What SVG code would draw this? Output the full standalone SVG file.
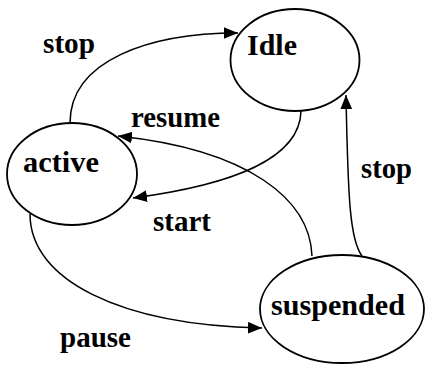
<svg xmlns="http://www.w3.org/2000/svg" width="425" height="365" viewBox="0 0 425 365">
<style>
.node ellipse{fill:#fff;stroke:#000;stroke-width:1.8}
.node text,.lbl{font-family:"Liberation Serif","Times New Roman",serif;font-weight:bold;font-size:29px;fill:#000}
.edge{fill:none;stroke:#000;stroke-width:1.5;marker-end:url(#ah)}
</style>
<defs>
<marker id="ah" markerUnits="userSpaceOnUse" markerWidth="14" markerHeight="12" refX="12" refY="5" orient="auto" viewBox="0 0 12 10">
<path d="M0,0 L12,5 L0,10 Z" fill="#000"/>
</marker>
</defs>
<g id="connectors">
<path class="edge" d="M 70 123 C 70 60, 150 33, 238 33"/>
<path class="edge" d="M 301 111 C 300 160, 230 185, 133 198"/>
<path class="edge" d="M 312 256 C 310 200, 250 150, 118 136"/>
<path class="edge" d="M 362 256 C 350 240, 348 200, 346 95"/>
<path class="edge" d="M 30 214 C 30 280, 120 325, 262 328"/>
</g>
<g id="idle" class="node">
<ellipse cx="295" cy="60" rx="64.5" ry="51"/>
<text x="247" y="55" textLength="50" lengthAdjust="spacingAndGlyphs">Idle</text>
</g>
<g id="active" class="node">
<ellipse cx="72" cy="174" rx="65" ry="51"/>
<text x="23" y="172" textLength="76" lengthAdjust="spacingAndGlyphs">active</text>
</g>
<g id="suspended" class="node">
<ellipse cx="342" cy="309" rx="82" ry="54"/>
<text x="271" y="315" textLength="134" lengthAdjust="spacingAndGlyphs">suspended</text>
</g>
<g id="labels">
<text class="lbl" x="43" y="53" textLength="52" lengthAdjust="spacingAndGlyphs">stop</text>
<text class="lbl" x="131" y="127" textLength="89" lengthAdjust="spacingAndGlyphs">resume</text>
<text class="lbl" x="153" y="231" textLength="58" lengthAdjust="spacingAndGlyphs">start</text>
<text class="lbl" x="361" y="178" textLength="51" lengthAdjust="spacingAndGlyphs">stop</text>
<text class="lbl" x="60" y="347" textLength="71" lengthAdjust="spacingAndGlyphs">pause</text>
</g>
</svg>
